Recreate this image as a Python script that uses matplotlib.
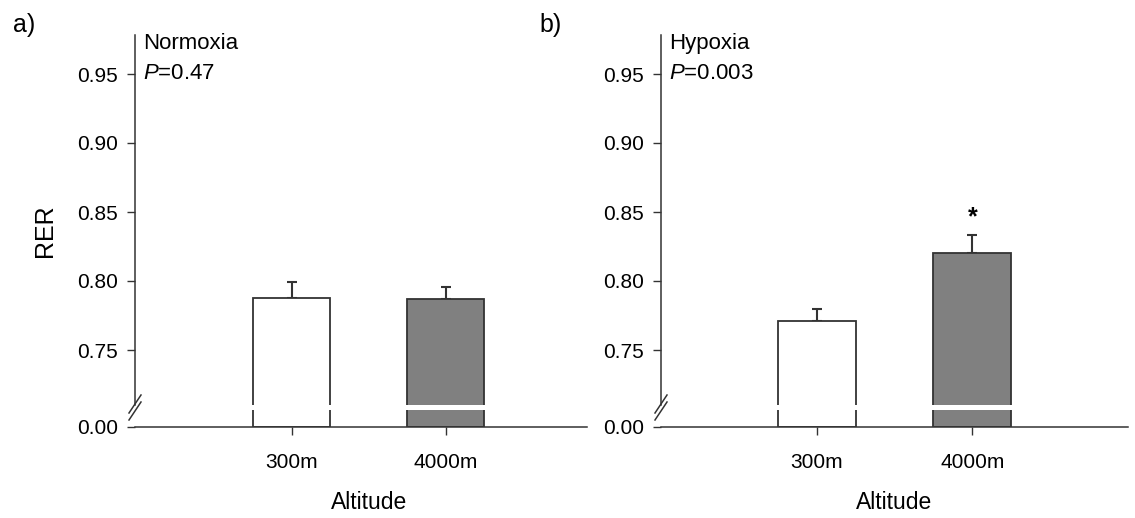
import matplotlib
matplotlib.use("Agg")
import matplotlib.pyplot as plt
from matplotlib.lines import Line2D

plt.rcParams["font.family"] = ["Liberation Sans", "DejaVu Sans"]
plt.rcParams["mathtext.fontset"] = "custom"
plt.rcParams["mathtext.it"] = "Liberation Sans:italic"
plt.rcParams["mathtext.rm"] = "Liberation Sans"

# data
altitudes = ["300m", "4000m"]
normoxia_rer = [0.788, 0.787]
normoxia_sem = [0.011, 0.009]
hypoxia_rer = [0.771, 0.820]
hypoxia_sem = [0.009, 0.013]
p_values = ["0.47", "0.003"]
conditions = ["Normoxia", "Hypoxia"]
panel_tags = ["a)", "b)"]
upper_ticks = [0.75, 0.80, 0.85, 0.90, 0.95]

W, H = 1135, 518
fig = plt.figure(figsize=(W / 100, H / 100), dpi=100)

DARK = "#333333"
bar_colors = ["white", "#808080"]
px_per_unit = 1380.0     # pixels per RER unit in the upper part


def add_px_axes(x0, x1, ytop, ybot):
    return fig.add_axes([x0 / W, 1 - ybot / H, (x1 - x0) / W, (ybot - ytop) / H])


def draw_panel(x0, x1, xlim, means, sems, cond, p, tag, star=False, ylabel=False):
    y_top, y_gap0, y_gap1, y_base = 35, 405, 410, 427
    up = add_px_axes(x0, x1, y_top, y_gap0)
    lo = add_px_axes(x0, x1, y_gap1, y_base)

    up.set_ylim(0.75 - (y_gap0 - 350) / px_per_unit, 0.75 + (350 - y_top) / px_per_unit)
    lo.set_ylim(0, (y_base - y_gap1) / px_per_unit)
    xs = list(range(len(altitudes)))
    for ax in (up, lo):
        ax.set_xlim(*xlim)
        ax.bar(xs, means, width=0.5, color=bar_colors, edgecolor=DARK, linewidth=1.3, zorder=2)
        for s in ("top", "right"):
            ax.spines[s].set_visible(False)
        ax.patch.set_alpha(0)
    up.errorbar(xs, means, yerr=[[0] * len(sems), sems], fmt="none", ecolor=DARK,
                elinewidth=1.5, capsize=3.5, capthick=1.5, zorder=1)

    up.spines["bottom"].set_visible(False)
    up.spines["left"].set_color(DARK)
    up.spines["left"].set_linewidth(1.1)
    up.set_xticks([])
    up.set_yticks(upper_ticks)
    up.set_yticklabels([f"{v:.2f}" for v in upper_ticks])
    up.tick_params(axis="y", direction="out", length=6, width=1.0, color=DARK,
                   labelsize=15, pad=6)

    lo.spines["left"].set_visible(False)
    lo.spines["bottom"].set_color(DARK)
    lo.spines["bottom"].set_linewidth(1.1)
    lo.set_yticks([0])
    lo.set_yticklabels(["0.00"])
    lo.tick_params(axis="y", direction="out", length=6, width=1.0, color=DARK,
                   labelsize=15, pad=6)
    lo.set_xticks(xs)
    lo.set_xticklabels(altitudes)
    lo.tick_params(axis="x", direction="out", length=6, width=1.0, color=DARK,
                   labelsize=15, pad=13)
    lo.set_xlabel("Altitude", fontsize=16.5)
    mid = (0.5 - xlim[0]) / (xlim[1] - xlim[0])
    lo.xaxis.set_label_coords(mid, -(491 - y_base) / (y_base - y_gap1))

    up.text(0.018, 1.005, f"{cond}\n$\\mathit{{P}}$={p}", transform=up.transAxes,
            ha="left", va="top", fontsize=16, linespacing=1.55)

    if star:
        up.text(1, 0.846, "*", ha="center", va="center", fontsize=18, fontweight="bold")

    if ylabel:
        up.set_ylabel("RER", fontsize=18)
        up.yaxis.set_label_coords(-0.172, 0.47)

    # break marks on the y axis
    for yc in (404, 411):
        fig.add_artist(Line2D([(x0 - 6) / W, (x0 + 6) / W],
                              [1 - (yc + 9) / H, 1 - (yc - 9) / H],
                              color=DARK, linewidth=1.1))

    fig.text((x0 - 122) / W, 1 - 32 / H, tag, fontsize=18, va="baseline", ha="left")


draw_panel(135, 587, (-1.02, 1.92), normoxia_rer, normoxia_sem,
           conditions[0], p_values[0], panel_tags[0], ylabel=True)
draw_panel(661, 1128, (-1.0, 2.0), hypoxia_rer, hypoxia_sem,
           conditions[1], p_values[1], panel_tags[1], star=True)

fig.savefig("out.png", dpi=100)
